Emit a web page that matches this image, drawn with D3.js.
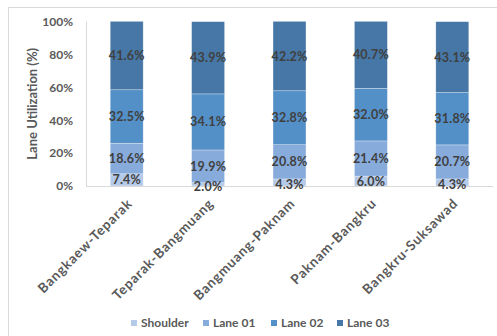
<!DOCTYPE html>
<html>
<head>
<meta charset="utf-8">
<script src="https://cdn.jsdelivr.net/npm/d3@7"></script>
<style>
  html, body { margin: 0; padding: 0; background: #ffffff; }
  svg { display: block; }
  text { font-family: Lato, "Open Sans", sans-serif; font-weight: bold; }
</style>
</head>
<body>
<svg id="chart" width="497" height="336"></svg>
<script>
// Road sections along the corridor
const sections = ["Bangkaew-Teparak", "Teparak-Bangmuang", "Bangmuang-Paknam", "Paknam-Bangkru", "Bangkru-Suksawad"];
// Lane utilization share (%) per section
const shoulder = [7.4, 2.0, 4.3, 6.0, 4.3];
const lane01   = [18.6, 19.9, 20.8, 21.4, 20.7];
const lane02   = [32.5, 34.1, 32.8, 32.0, 31.8];
const lane03   = [41.6, 43.9, 42.2, 40.7, 43.1];
const seriesNames = ["Shoulder", "Lane 01", "Lane 02", "Lane 03"];
const yTicks = [0, 20, 40, 60, 80, 100];

const colors = ["#b5cae8", "#87acdc", "#5490c8", "#4677a6"];

const rows = sections.map((s, i) => ({
  section: s,
  "Shoulder": shoulder[i],
  "Lane 01": lane01[i],
  "Lane 02": lane02[i],
  "Lane 03": lane03[i]
}));

const svg = d3.select("#chart");

// chart area frame
svg.append("rect")
  .attr("x", 8.5).attr("y", 7.5)
  .attr("width", 497).attr("height", 340)
  .attr("fill", "none").attr("stroke", "#d9d9d9").attr("stroke-width", 1);

const plot = { left: 86, right: 493, top: 21.5, bottom: 186 };

const x = d3.scaleBand().domain(sections).range([plot.left, plot.right]).paddingInner(0.595).paddingOuter(0.2975);
const y = d3.scaleLinear().domain([0, 100]).range([plot.bottom, plot.top]);
const color = d3.scaleOrdinal().domain(seriesNames).range(colors);

const stacked = d3.stack().keys(seriesNames)(rows);

// left value axis line
svg.append("line")
  .attr("x1", plot.left + 0.5).attr("x2", plot.left + 0.5)
  .attr("y1", y(100)).attr("y2", y(0))
  .attr("stroke", "#d9d9d9");

// stacked bars
const groups = svg.append("g").selectAll("g")
  .data(stacked).join("g")
  .attr("fill", d => color(d.key));

groups.selectAll("rect")
  .data(d => d.map(v => ({ key: d.key, v })))
  .join("rect")
  .attr("x", d => x(d.v.data.section))
  .attr("y", d => y(d.v[1]))
  .attr("width", x.bandwidth())
  .attr("height", d => y(d.v[0]) - y(d.v[1]))
  .attr("stroke", "#ffffff")
  .attr("stroke-opacity", 0.5)
  .attr("stroke-width", 0.6);

// category axis line
svg.append("line")
  .attr("x1", plot.left).attr("x2", plot.right)
  .attr("y1", y(0) + 0.5).attr("y2", y(0) + 0.5)
  .attr("stroke", "#d9d9d9");

// segment value labels, centred in each segment
const labels = svg.append("g");
stacked.forEach(layer => {
  labels.selectAll(null)
    .data(layer)
    .join("text")
    .attr("x", d => x(d.data.section) + x.bandwidth() / 2)
    .attr("y", d => {
      const mid = (y(d[0]) + y(d[1])) / 2;
      // very thin segments: nudge the label so it sits on the axis line
      return y(d[0]) - mid < 4 ? mid + 2.5 : mid;
    })
    .attr("dy", "0.36em")
    .attr("text-anchor", "middle")
    .attr("font-size", "12.5px")
    .attr("letter-spacing", "0.2px")
    .attr("fill", "#404040")
    .text(d => d.data[layer.key].toFixed(1) + "%");
});

// y axis tick labels
const yAxis = d3.axisLeft(y).tickValues(yTicks).tickFormat(d => d + "%").tickSize(0).tickPadding(13);
const yg = svg.append("g").attr("transform", `translate(${plot.left},0)`).call(yAxis);
yg.select(".domain").remove();
yg.selectAll("text")
  .attr("font-family", "Lato, 'Open Sans', sans-serif")
  .attr("font-weight", "bold")
  .attr("font-size", "12px")
  .attr("fill", "#595959");

// y axis title
svg.append("text")
  .attr("transform", `translate(37,${(plot.top + plot.bottom) / 2}) rotate(-90)`)
  .attr("text-anchor", "middle")
  .attr("font-size", "13px")
  .attr("fill", "#595959")
  .text("Lane Utilization (%)");

// x axis category labels
const xAxis = d3.axisBottom(x).tickSize(0).tickPadding(0);
const xg = svg.append("g").attr("transform", `translate(0,${plot.bottom})`).call(xAxis);
xg.select(".domain").remove();
xg.selectAll("text")
  .attr("font-family", "Lato, 'Open Sans', sans-serif")
  .attr("font-weight", "bold")
  .attr("font-size", "13.5px")
  .attr("letter-spacing", "0.8px")
  .attr("fill", "#595959")
  .attr("text-anchor", "end")
  .attr("dy", "0.35em")
  .attr("transform", "translate(3,15) rotate(-45)");

// legend
const legendX = [131, 203, 271, 337];
const legend = svg.append("g").selectAll("g")
  .data(seriesNames).join("g")
  .attr("transform", (d, i) => `translate(${legendX[i]},323)`);
legend.append("rect")
  .attr("x", 0).attr("y", -3).attr("width", 6).attr("height", 6)
  .attr("fill", d => color(d));
legend.append("text")
  .attr("x", 10).attr("y", 0).attr("dy", "0.35em")
  .attr("font-size", "12px")
  .attr("fill", "#595959")
  .text(d => d);
</script>
</body>
</html>
